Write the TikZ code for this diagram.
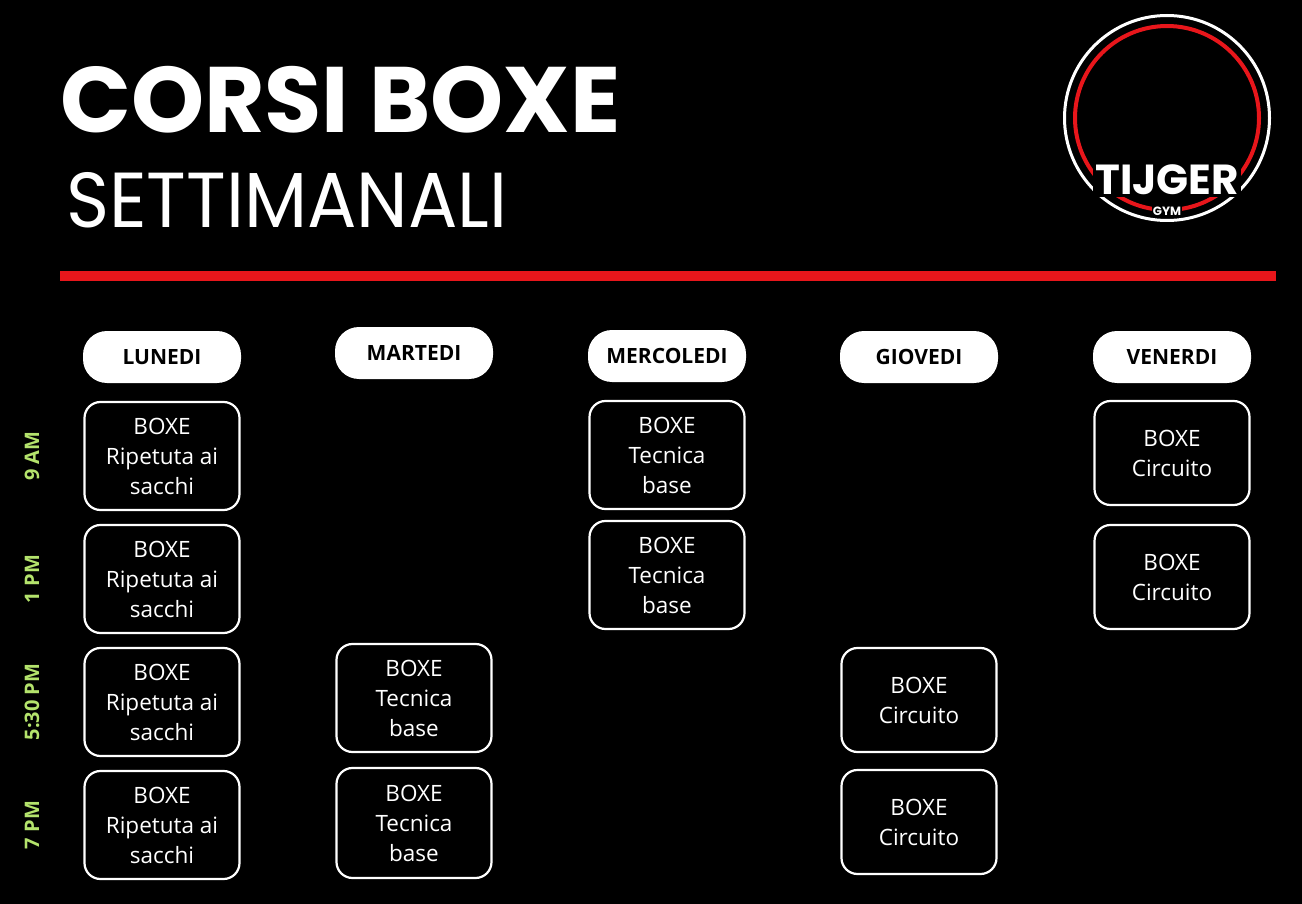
\documentclass[tikz,border=0pt]{standalone}
\usepackage{fontspec}
\setmainfont{Open Sans}
\newfontfamily\pop{Poppins}
\definecolor{redline}{HTML}{E8161B}
\definecolor{timegreen}{HTML}{B4E36C}
\tikzset{
 day/.style={fill=white,rounded corners=24pt,minimum width=158pt,minimum height=52pt,font=\fontsize{21}{24}\selectfont\bfseries,text=black},
 slot/.style={draw=white,line width=2.2pt,rounded corners=16pt,minimum width=155pt,text=white,align=center,font=\fontsize{22.5}{30}\selectfont},
 tlabel/.style={rotate=90,text=timegreen,font=\fontsize{20}{24}\selectfont\bfseries}
}
\begin{document}
\begin{tikzpicture}[x=1pt,y=-1pt]
\fill[black] (0,0) rectangle (1302,904);
\useasboundingbox (0,0) rectangle (1302,904);
\node[anchor=base west,text=white,inner sep=0,font=\pop\fontsize{93}{93}\selectfont\bfseries] (t1) at (60,133) {CORSI BOXE};
\node[anchor=base west,text=white,inner sep=0,font=\pop\fontsize{78}{78}\selectfont] (t2) at (66,228) {\scalebox{0.94}[1]{SETTIMANALI}};
\fill[redline] (60,271) rectangle (1276,281);
% logo
\node[draw=white,line width=3pt,fill=black,circle,minimum size=205pt] (logo) at (1167,118) {};
\draw[redline,line width=4pt] (1167,118) circle (92pt);
\node[text=white,fill=black,font=\pop\fontsize{42}{42}\selectfont\bfseries,inner sep=2pt] (lt) at (1167,180) {TIJGER};
\node[text=white,fill=black,font=\pop\fontsize{12}{12}\selectfont\bfseries,inner sep=1pt,anchor=north] (lg) at (1167,206) {GYM};
% days
\node[day] (d1) at (162,357) {LUNEDI};
\node[day] (d2) at (414,353) {MARTEDI};
\node[day] (d3) at (667,356) {MERCOLEDI};
\node[day] (d4) at (919,357) {GIOVEDI};
\node[day] (d5) at (1172,357) {VENERDI};
% times
\node[tlabel] (h1) at (32,456) {9 AM};
\node[tlabel] (h2) at (32,579) {1 PM};
\node[tlabel] (h3) at (32,702) {5:30 PM};
\node[tlabel] (h4) at (32,825) {7 PM};
% slots
\foreach \y/\n in {456/a,579/b,702/c,825/d}
 \node[slot,minimum height=108pt] (l\n) at (162,\y) {BOXE\\Ripetuta ai\\sacchi};
\node[slot,minimum height=108pt] (ma) at (414,698) {BOXE\\Tecnica\\base};
\node[slot,minimum height=110pt] (mb) at (414,823) {BOXE\\Tecnica\\base};
\node[slot,minimum height=108pt] (me1) at (667,455) {BOXE\\Tecnica\\base};
\node[slot,minimum height=108pt] (me2) at (667,575) {BOXE\\Tecnica\\base};
\node[slot,minimum height=104pt] (g1) at (919,700) {BOXE\\Circuito};
\node[slot,minimum height=104pt] (g2) at (919,822) {BOXE\\Circuito};
\node[slot,minimum height=104pt] (v1) at (1172,453) {BOXE\\Circuito};
\node[slot,minimum height=104pt] (v2) at (1172,577) {BOXE\\Circuito};
\end{tikzpicture}
\end{document}
